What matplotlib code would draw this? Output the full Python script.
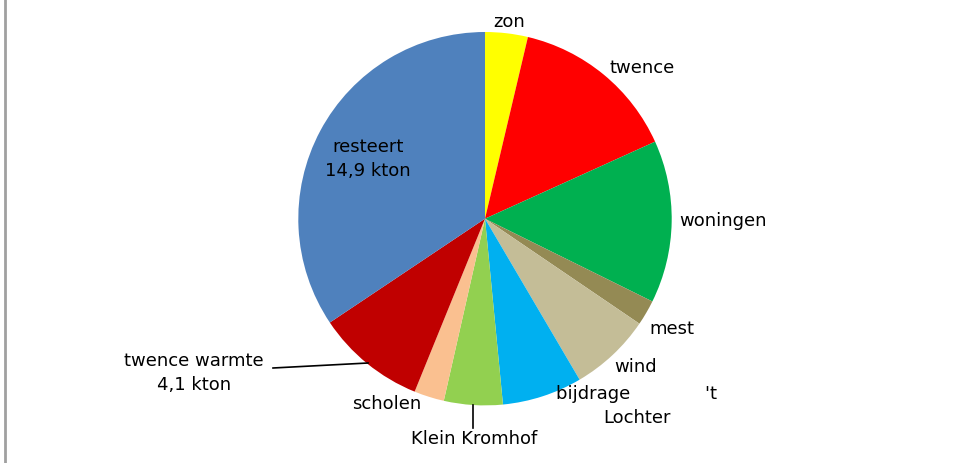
import matplotlib
matplotlib.use("Agg")
import matplotlib.pyplot as plt

# Data (kton)
categories = ["zon", "twence", "woningen", "mest", "wind", "bijdrage 't Lochter",
              "Klein Kromhof", "scholen", "twence warmte", "resteert"]
values = [1.6, 6.3, 6.1, 0.95, 3.05, 3.0, 2.2, 1.13, 4.1, 14.9]
value_labels = {"twence warmte": "4,1 kton", "resteert": "14,9 kton"}
colors = ["#FFFF00", "#FF0000", "#00B050", "#948A54", "#C4BD97", "#00B0F0",
          "#92D050", "#FAC090", "#C00000", "#4F81BD"]

W, H = 963, 463
fig = plt.figure(figsize=(W / 100, H / 100), dpi=100)
fig.patch.set_facecolor("white")
ax = fig.add_axes([0, 0, 1, 1])

def P(x, y):
    return (x, H - y)

cx, cy = P(485, 218.7)
ax.pie(values, colors=colors, startangle=90, counterclock=False,
       center=(cx, cy), radius=186.7, frame=True,
       wedgeprops=dict(linewidth=0, antialiased=True))
ax.set_xlim(0, W)
ax.set_ylim(0, H)
ax.set_aspect("auto")
ax.axis("off")

fs = 13
label_pos = {
    "zon": (509, 22),
    "twence": (642, 68),
    "woningen": (723, 221),
    "mest": (672, 329),
    "wind": (636, 367),
    "Klein Kromhof": (474, 439),
    "scholen": (387, 404),
}
for name, (x, y) in label_pos.items():
    ax.text(*P(x, y), name, ha="center", va="center", fontsize=fs, color="black")

# bijdrage 't Lochter (wrapped label)
parts = categories[5].split(" ")
ax.text(*P(637, 406), parts[0] + " " * 13 + parts[1] + "\n" + parts[2],
        ha="center", va="center", fontsize=fs, multialignment="center",
        linespacing=1.45)

# twence warmte
ax.text(*P(194, 373), "twence warmte\n" + value_labels["twence warmte"],
        ha="center", va="center", fontsize=fs, multialignment="center",
        linespacing=1.45)
ax.plot(*zip(P(273, 368), P(368, 363)), color="black", linewidth=1.2)

# Klein Kromhof leader
ax.plot(*zip(P(473, 405), P(473, 428)), color="black", linewidth=1.2)

# resteert
ax.text(*P(368, 159), "resteert\n" + value_labels["resteert"],
        ha="center", va="center", fontsize=fs, multialignment="center",
        linespacing=1.45)

# left border line
ax.plot(*zip(P(5, 0), P(5, H)), color="#A0A0A0", linewidth=2)

fig.savefig("out.png", dpi=100, facecolor="white")
